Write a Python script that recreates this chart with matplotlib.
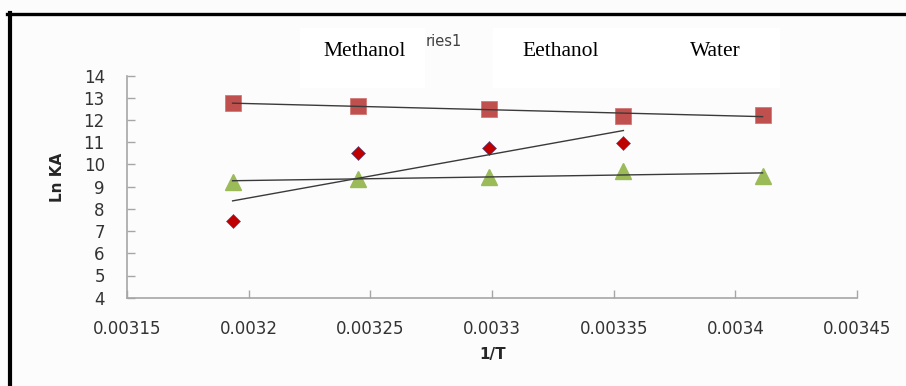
import matplotlib.pyplot as plt
from matplotlib.lines import Line2D
from matplotlib.patches import Rectangle
import numpy as np

# 1/T values (1/K) and Ln KA for each solvent
inv_t = [0.0031934, 0.0032450, 0.0032987, 0.0033540, 0.0034112]
ln_ka_methanol = [7.47, 10.53, 10.76, 10.95]
ln_ka_ethanol = [12.76, 12.64, 12.50, 12.20, 12.22]
ln_ka_water = [9.23, 9.33, 9.45, 9.72, 9.48]

legend_names = ["Methanol", "Eethanol", "Water"]
x_ticks = [0.00315, 0.0032, 0.00325, 0.0033, 0.00335, 0.0034, 0.00345]
x_tick_labels = ["0.00315", "0.0032", "0.00325", "0.0033", "0.00335", "0.0034", "0.00345"]
y_ticks = list(range(4, 15))

W, H = 906, 386
fig = plt.figure(figsize=(W / 100, H / 100), dpi=100, facecolor="#fcfcfc")


def px(x, y):
    # pixel position (from top-left) -> figure fraction
    return x / W, 1 - y / H


ax = fig.add_axes([127 / W, 1 - 297.7 / H, 730 / W, 222 / H])
ax.set_facecolor("#fcfcfc")

grey = "#a6a6a6"
for side in ["top", "right"]:
    ax.spines[side].set_visible(False)
for side in ["left", "bottom"]:
    ax.spines[side].set_color(grey)
    ax.spines[side].set_linewidth(1.2)

# data points
x_m = inv_t[:len(ln_ka_methanol)]
ax.plot(x_m, ln_ka_methanol, linestyle="none", marker="D", markersize=7.5,
        markerfacecolor="#c00000", markeredgecolor="#4a4a8a", markeredgewidth=0.4, zorder=3)
ax.plot(inv_t, ln_ka_ethanol, linestyle="none", marker="s", markersize=11.5,
        markerfacecolor="#c0504d", markeredgecolor="#d27a77", markeredgewidth=0.6, zorder=3)
ax.plot(inv_t, ln_ka_water, linestyle="none", marker="^", markersize=11,
        markerfacecolor="#9bbb59", markeredgecolor="#9bbb59", zorder=3)

# linear trend lines
for xs, ys in [(x_m, ln_ka_methanol), (inv_t, ln_ka_ethanol), (inv_t, ln_ka_water)]:
    k, b = np.polyfit(xs, ys, 1)
    xe = np.array([xs[0], xs[-1]])
    ax.plot(xe, k * xe + b, color="#3a3a3a", linewidth=1.0, zorder=4)

ax.set_xlim(0.00315, 0.00345)
ax.set_ylim(4, 14)
ax.set_xticks(x_ticks)
ax.set_xticklabels(x_tick_labels)
ax.set_yticks(y_ticks)
ax.tick_params(axis="both", direction="in", length=6, width=1, color=grey,
               labelsize=12, labelcolor="#333333")
ax.tick_params(axis="x", pad=16)
ax.tick_params(axis="y", pad=16)

fig.text(*px(493, 355), "1/T", ha="center", va="center", fontsize=11,
         fontweight="bold", color="#262626")
fig.text(*px(57, 177), "Ln KA", ha="center", va="center", rotation=90, fontsize=11,
         fontweight="bold", color="#262626")

# leftover of the old series label, partly hidden by the name boxes
fig.text(*px(426, 41), "ries1", ha="left", va="center", fontsize=10.5,
         color="#404040", family="DejaVu Sans")

# white boxes with the solvent names
boxes = [(300, 425), (493, 618), (618, 780)]
centers = [365, 561, 715]
for (x0, x1), cx, name in zip(boxes, centers, legend_names):
    fx0, fy0 = px(x0, 88)
    fx1, fy1 = px(x1, 28)
    fig.patches.append(Rectangle((fx0, fy0), fx1 - fx0, fy1 - fy0, transform=fig.transFigure,
                                 facecolor="white", edgecolor="none", zorder=5))
    fig.text(*px(cx, 52), name, ha="center", va="center", fontsize=15.5,
             family="Liberation Serif", color="black", zorder=6)

# black frame on top and left
fig.lines.append(Line2D([7 / W, 1], [1 - 14 / H, 1 - 14 / H], transform=fig.transFigure,
                        color="black", linewidth=2.4))
fig.lines.append(Line2D([10 / W, 10 / W], [0, 1 - 13 / H], transform=fig.transFigure,
                        color="black", linewidth=3))

fig.savefig("out.png", dpi=100, facecolor=fig.get_facecolor())
